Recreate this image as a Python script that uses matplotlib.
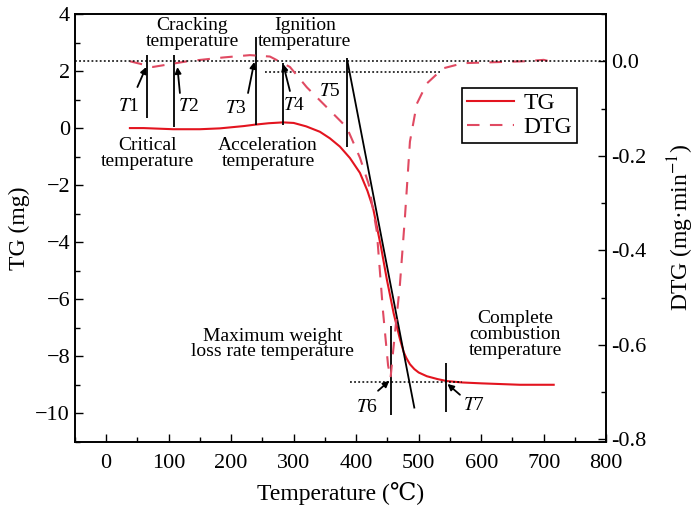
import numpy as np
import matplotlib
matplotlib.use("Agg")
import matplotlib.pyplot as plt
from matplotlib.ticker import MultipleLocator

plt.rcParams['font.family'] = ['Liberation Serif', 'DejaVu Serif']
plt.rcParams['mathtext.fontset'] = 'stix'

# TG curve (mg) vs temperature (°C)
tg_temp = [38, 60, 107, 150, 182, 220, 238, 260, 283, 300, 320, 342, 358, 374,
           390, 406, 418, 427, 440, 449, 455, 460, 470, 476, 480, 486, 493,
           500, 513, 530, 545, 570, 600, 662, 716]
tg_mass = [0.0, 0.0, -0.04, -0.04, -0.01, 0.07, 0.12, 0.17, 0.2, 0.18, 0.06,
           -0.13, -0.36, -0.65, -1.05, -1.57, -2.2, -2.8, -4.2, -5.3, -5.95,
           -6.5, -7.4, -7.85, -8.05, -8.28, -8.45, -8.57, -8.7, -8.8, -8.87,
           -8.92, -8.95, -9.0, -9.0]

# DTG curve (mg/min)
dtg_temp = [38, 75, 130, 187, 230, 262, 294, 321, 358, 385, 406, 420, 433, 443,
            451, 455, 459, 470, 478, 486, 497, 513, 539, 571, 620, 670, 700, 715]
dtg_rate = [0.0, -0.012, 0.0, 0.008, 0.013, 0.01, -0.012, -0.055, -0.104, -0.14,
            -0.204, -0.26, -0.36, -0.53, -0.643, -0.67, -0.615, -0.472, -0.33,
            -0.17, -0.09, -0.047, -0.015, -0.004, -0.002, 0.0, 0.003, -0.002]

# characteristic temperatures: x, y bottom, y top (TG axis units)
marks_x = [66, 109, 240, 283, 386, 456, 544]
marks_lo = [0.35, 0.04, 0.1, 0.1, -0.66, -10.05, -9.97]
marks_hi = [2.56, 2.56, 3.2, 2.28, 2.46, -6.94, -8.22]

# italic T-labels and arrows
t_names = ['T1', 'T2', 'T3', 'T4', 'T5', 'T6', 'T7']
t_label_xy = [(36, 0.75), (132, 0.74), (208, 0.67), (301, 0.78),
              (358, 1.30), (418, -9.81), (589, -9.74)]
arrow_tail = [(50, 1.44), (118, 1.23), (227, 1.23), (294, 1.30),
              None, (435, -9.21), (566, -9.35)]
arrow_head = [(64, 2.14), (114, 2.14), (237, 2.32), (283, 2.25),
              None, (453, -8.86), (546, -8.97)]

notes = ['Cracking\ntemperature', 'Ignition\ntemperature',
         'Critical\ntemperature', 'Acceleration\ntemperature',
         'Maximum weight\nloss rate temperature',
         'Complete\ncombustion\ntemperature']
notes_xy = [(138, 3.3), (318, 3.3), (66, -0.9), (259, -0.9),
            (266, -7.57), (654, -7.25)]

fig = plt.figure(figsize=(7, 5.09), dpi=100)
ax = fig.add_axes([0.107, 0.132, 0.759, 0.8405])
ax2 = ax.twinx()

tg_color = '#e3141f'
dtg_color = '#e04a62'

l1, = ax.plot(tg_temp, tg_mass, color=tg_color, lw=1.5, label='TG')
l2, = ax2.plot(dtg_temp, dtg_rate, color=dtg_color, lw=1.5,
               dashes=(6, 5), label='DTG')

ax.set_xlim(-50, 800)
ax.set_ylim(-11, 4)
ax2.set_ylim(-0.805, 0.1)

ax.xaxis.set_major_locator(MultipleLocator(100))
ax.xaxis.set_minor_locator(MultipleLocator(50))
ax.yaxis.set_major_locator(MultipleLocator(2))
ax.yaxis.set_minor_locator(MultipleLocator(1))
ax2.yaxis.set_major_locator(MultipleLocator(0.2))
ax2.yaxis.set_minor_locator(MultipleLocator(0.1))
ax2.yaxis.set_major_formatter(plt.FormatStrFormatter('%.1f'))

for a in (ax, ax2):
    a.tick_params(which='major', direction='in', length=6, width=1,
                  labelsize=16)
    a.tick_params(which='minor', direction='in', length=3.5, width=1)
    for s in a.spines.values():
        s.set_linewidth(1.2)
ax.tick_params(axis='y', which='both', right=False)
ax.tick_params(axis='x', which='both', top=False, pad=9)

ax.set_xlabel('Temperature (\u2103)', fontsize=17, labelpad=6)
ax.set_ylabel('TG (mg)', fontsize=17, labelpad=4)
ax2.set_ylabel('DTG (mg\u00b7min$^{-1}$)', fontsize=17, labelpad=14)

# reference dotted lines
ax2.axhline(0, color='k', lw=1.1, ls=(0, (1.2, 1.5)))
ax.plot([254, 534], [1.97, 1.97], color='k', lw=1.1, ls=(0, (1.2, 1.5)))
ax.plot([390, 570], [-8.92, -8.92], color='k', lw=1.1, ls=(0, (1.2, 1.5)))

# tangent line for ignition
ax.plot([386, 493], [2.35, -9.8], color='k', lw=1.3)

ax.vlines(marks_x, marks_lo, marks_hi, color='k', lw=1.3)

for name, xy, tail, head in zip(t_names, t_label_xy, arrow_tail, arrow_head):
    ax.text(xy[0], xy[1], '$\\mathit{T}$' + name[1], fontsize=14,
            ha='center', va='center')
    if tail is not None:
        ax.annotate('', xy=head, xytext=tail,
                    arrowprops=dict(arrowstyle='-|>', color='k', lw=1.3,
                                    mutation_scale=9, shrinkA=0, shrinkB=0))

for txt, xy in zip(notes, notes_xy):
    ax.text(xy[0], xy[1], txt, fontsize=14, ha='center', va='center',
            linespacing=0.92)

leg = ax.legend(handles=[l1, l2], loc='upper left',
                bbox_to_anchor=(0.729, 0.827), borderaxespad=0,
                fontsize=17, handlelength=2.0, handletextpad=0.4,
                borderpad=0.2, labelspacing=0.1, fancybox=False,
                framealpha=1, edgecolor='k')
leg.get_frame().set_linewidth(1.2)

fig.savefig('out.png', dpi=100)
